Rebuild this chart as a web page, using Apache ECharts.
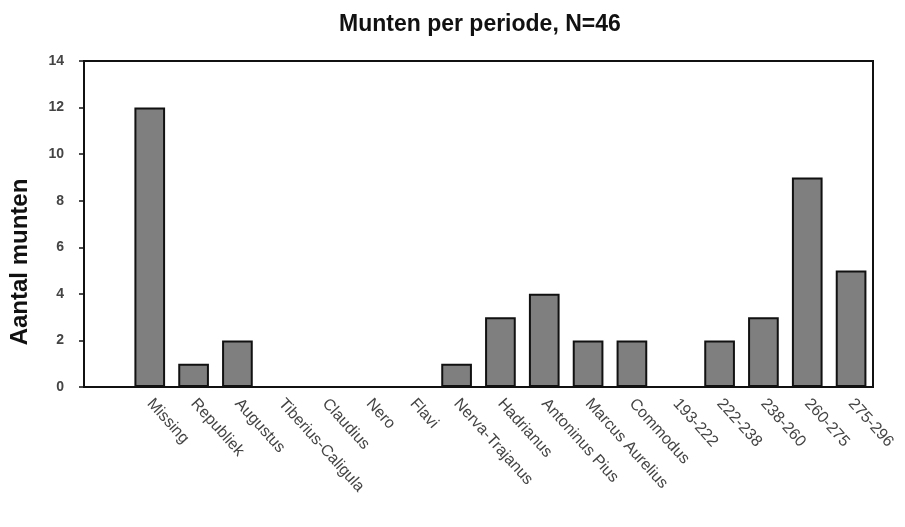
<!DOCTYPE html>
<html>
<head>
<meta charset="utf-8">
<script src="https://cdn.jsdelivr.net/npm/echarts@6/dist/echarts.min.js"></script>
<style>
  html, body { margin: 0; padding: 0; background: #fff; }
  #chart { width: 905px; height: 527px; }
</style>
</head>
<body>
<div id="chart"></div>
<script>
// Periods (leading blank slot leaves room before the first bar)
const periods = ['', 'Missing', 'Republiek', 'Augustus', 'Tiberius-Caligula', 'Claudius', 'Nero', 'Flavi',
  'Nerva-Trajanus', 'Hadrianus', 'Antoninus Pius', 'Marcus Aurelius', 'Commodus',
  '193-222', '222-238', '238-260', '260-275', '275-296'];
// Number of coins per period
const coinCounts = [null, 12, 1, 2, 0, 0, 0, 0, 1, 3, 4, 2, 2, 0, 2, 3, 9, 5];
const yTicks = { min: 0, max: 14, interval: 2 };

const font = 'Liberation Sans, Arial, sans-serif';
const chart = echarts.init(document.getElementById('chart'));
chart.setOption({
  backgroundColor: '#ffffff',
  animation: false,
  title: {
    text: 'Munten per periode, N=46',
    left: 334,
    top: 8,
    textStyle: { fontFamily: font, fontWeight: 'bold', fontSize: 23, color: '#111' }
  },
  grid: { left: 84, right: 32, top: 61, bottom: 140, show: true, borderColor: '#111', borderWidth: 2 },
  xAxis: {
    type: 'category',
    data: periods,
    axisLine: { lineStyle: { color: '#111', width: 2 } },
    axisTick: { show: false },
    axisLabel: {
      interval: 0,
      rotate: -48,
      margin: 14,
      color: '#444',
      fontFamily: font,
      fontSize: 16
    }
  },
  yAxis: {
    type: 'value',
    min: yTicks.min,
    max: yTicks.max,
    interval: yTicks.interval,
    name: 'Aantal munten',
    nameLocation: 'middle',
    nameGap: 52,
    nameTextStyle: { fontFamily: font, fontWeight: 'bold', fontSize: 24, color: '#111', padding: [0, 0, 0, -76] },
    axisLine: { show: true, lineStyle: { color: '#111', width: 2 } },
    axisTick: { show: true, length: 5, lineStyle: { color: '#111', width: 1.5 } },
    splitLine: { show: false },
    axisLabel: { color: '#444', fontFamily: font, fontWeight: 'bold', fontSize: 14, margin: 20 }
  },
  series: [{
    type: 'bar',
    data: coinCounts,
    barWidth: '70%',
    itemStyle: { color: '#7f7f7f', borderColor: '#111', borderWidth: 2 }
  }]
});
</script>
</body>
</html>
